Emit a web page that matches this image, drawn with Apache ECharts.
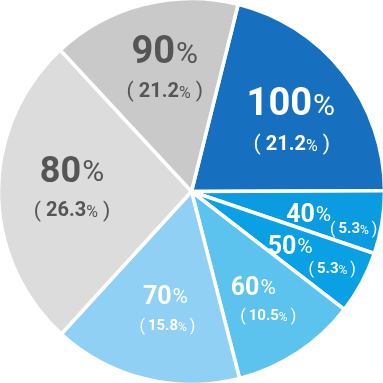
<!DOCTYPE html>
<html><head><meta charset="utf-8">
<script src="https://cdn.jsdelivr.net/npm/echarts@6/dist/echarts.min.js"></script>
<style>html,body{margin:0;padding:0;background:#fff}#c{width:383px;height:383px}</style>
</head><body><div id="c"></div>
<script>
// Data
const categories = ['100%', '40%', '50%', '60%', '70%', '80%', '90%'];
const counts = [4, 1, 1, 2, 3, 5, 3];
const shareLabels = ['21.2%', '5.3%', '5.3%', '10.5%', '15.8%', '26.3%', '21.2%'];

// Styles
const colors = ['#1770bf', '#0a9be0', '#0aa0e4', '#5cc3ef', '#8fd0f4', '#dcdcdc', '#c9c9c9'];
const textColors = ['#fff', '#fff', '#fff', '#fff', '#fff', '#555', '#555'];
const bigGroup = [true, false, false, false, false, true, true];
const bigOffsets = [[21, -25], [19, 8], [11, 9], [7, 14], [-2, 10], [-20, -19], [-2, -42]];
const subOffsets = [[22, 15], [64, 22], [53, 31], [22, 42], [0, 39], [-20, 20], [-2, -3]];

const FONT = 'Roboto, "Noto Sans", sans-serif';

function mainRich(i) {
  const c = textColors[i], big = bigGroup[i];
  return {
    n: {fontFamily: FONT, fontWeight: 'bold', fontSize: big ? (i === 5 ? 36 : 38) : 25, color: c, verticalAlign: 'bottom'},
    p: {fontFamily: FONT, fontWeight: 'normal', fontSize: big ? 30 : 21, color: c, verticalAlign: 'bottom', padding: [0, 0, 2, 1]}
  };
}
function subRich(i) {
  const c = textColors[i], big = bigGroup[i];
  return {
    o: {fontFamily: FONT, fontWeight: 'normal', fontSize: big ? 21 : 16, color: c, verticalAlign: 'bottom'},
    s: {fontFamily: FONT, fontWeight: 'bold', fontSize: big ? 20 : 15, color: c, verticalAlign: 'bottom', padding: [0, 0, 1, big ? 5 : 3]},
    q: {fontFamily: FONT, fontWeight: 'normal', fontSize: big ? 16 : 12, color: c, verticalAlign: 'bottom', padding: [0, big ? 5 : 3, 1, 0]}
  };
}

const mainData = categories.map((name, i) => ({
  name, value: counts[i],
  itemStyle: {color: colors[i]},
  label: {rich: mainRich(i)}
}));
const subData = categories.map((name, i) => ({
  name, value: counts[i],
  label: {rich: subRich(i)}
}));

const common = {
  type: 'pie',
  center: ['50%', '50%'],
  radius: [0, 193],
  startAngle: 76,
  clockwise: true,
  avoidLabelOverlap: false,
  labelLine: {show: false},
  emphasis: {disabled: true},
  animation: false
};

const chart = echarts.init(document.getElementById('c'), null, {renderer: 'canvas'});
chart.setOption({
  backgroundColor: '#fff',
  series: [
    Object.assign({}, common, {
      data: mainData,
      itemStyle: {borderColor: '#fff', borderWidth: 3.5},
      label: {
        show: true, position: 'inside',
        formatter: p => '{n|' + p.name.replace('%', '') + '}{p|%}'
      },
      labelLayout: p => ({dx: bigOffsets[p.dataIndex][0], dy: bigOffsets[p.dataIndex][1]})
    }),
    Object.assign({}, common, {
      data: subData,
      silent: true,
      itemStyle: {color: 'rgba(0,0,0,0)', borderWidth: 0},
      label: {
        show: true, position: 'inside',
        formatter: p => '{o|(}{s|' + shareLabels[p.dataIndex].replace('%', '') + '}{q|%}{o|)}'
      },
      labelLayout: p => ({dx: subOffsets[p.dataIndex][0], dy: subOffsets[p.dataIndex][1]})
    })
  ]
});
</script></body></html>
